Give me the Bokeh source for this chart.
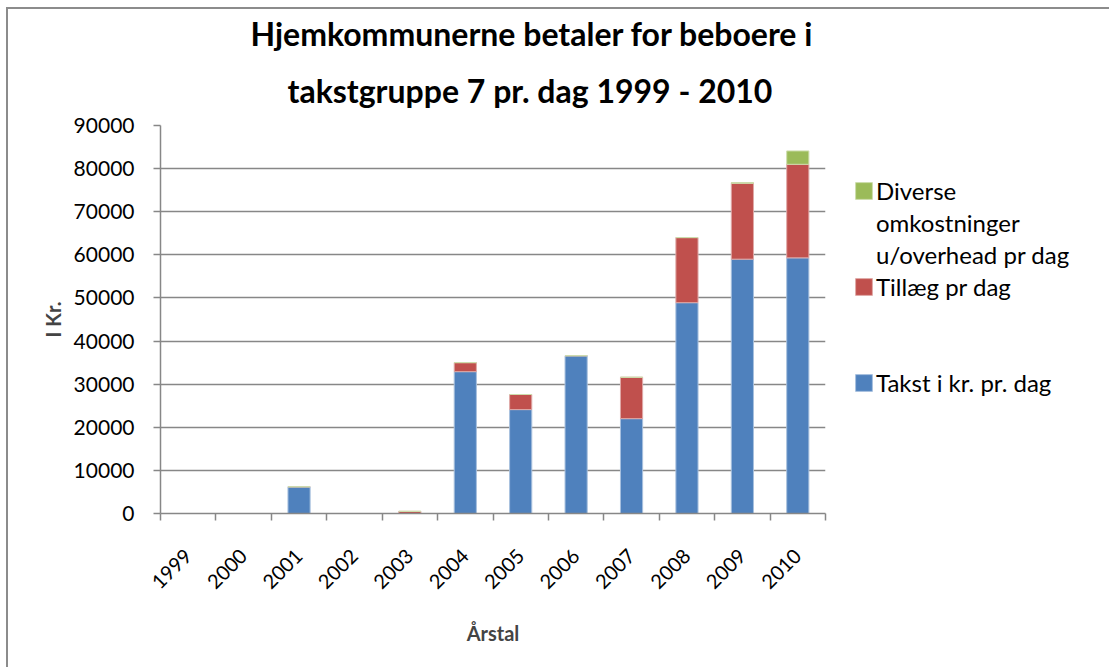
from bokeh.plotting import figure
from bokeh.models import (Range1d, Legend, LegendItem, LinearAxis, Title,
                          FixedTicker, NumeralTickFormatter)
from bokeh.embed import file_html
from bokeh.resources import INLINE
import math

years = ["1999", "2000", "2001", "2002", "2003", "2004", "2005", "2006", "2007", "2008", "2009", "2010"]
takst = [0, 0, 6200, 0, 0, 32900, 24100, 36600, 22000, 48900, 59000, 59300]
tillaeg = [0, 0, 0, 0, 500, 2100, 3500, 0, 9600, 15100, 17600, 21700]
diverse = [0, 0, 0, 0, 0, 0, 0, 0, 0, 0, 150, 3100]
y_ticks = [0, 10000, 20000, 30000, 40000, 50000, 60000, 70000, 80000, 90000]

series = ["takst", "tillaeg", "diverse"]
label_takst = "Takst i kr. pr. dag"
label_tillaeg = "Tillæg pr dag"
label_diverse = ["Diverse", "omkostninger", "u/overhead pr dag"]
colors = ["#4F81BD", "#C0504D", "#9BBB59"]
title_lines = ["Hjemkommunerne betaler for beboere i", "takstgruppe 7 pr. dag 1999 - 2010"]

FONT = "Lato"
GRAY = "#878787"

n = len(years)
xpos = [i + 0.5 for i in range(n)]          # category centres on a 0..n scale
edges = list(range(n + 1))                  # category boundaries (tick marks)

p = figure(x_range=Range1d(0, n), y_range=Range1d(0, 90000),
           width=1101, height=658, output_backend="svg", toolbar_location=None,
           min_border_left=152, min_border_right=284, min_border_top=116, min_border_bottom=154,
           frame_width=665, frame_height=388)
p.margin = (7, 0, 0, 6)
p.styles = {"border-left": "2px solid #8C8C8C", "border-top": "2px solid #8C8C8C"}
p.title.visible = False

source = dict(x=xpos, takst=takst, tillaeg=tillaeg, diverse=diverse)
renderers = p.vbar_stack(series, x="x", width=0.4, source=source, color=colors,
                         line_color=["#A7C0DE", "#DFA9A7", "#CDDDAC"], line_width=1)
# invisible renderer used only for the legend's extra lines / gaps
spacer = p.vbar(x=[], top=[], width=0.4, fill_alpha=0, line_alpha=0)

p.outline_line_color = None
p.background_fill_color = "white"
p.border_fill_color = "white"

p.xgrid.grid_line_color = None
p.ygrid.grid_line_color = GRAY
p.ygrid.grid_line_width = 1.5
p.ygrid.ticker = FixedTicker(ticks=y_ticks)

yax = p.yaxis[0]
yax.ticker = FixedTicker(ticks=y_ticks)
yax.formatter = NumeralTickFormatter(format="0")
yax.axis_line_color = GRAY
yax.axis_line_width = 1.5
yax.major_tick_line_color = GRAY
yax.major_tick_line_width = 1.5
yax.major_tick_out = 7
yax.major_tick_in = 0
yax.minor_tick_line_color = None
yax.major_label_text_font = FONT
yax.major_label_text_font_size = "21px"
yax.major_label_text_color = "black"
yax.major_label_standoff = 19
yax.axis_label = "I Kr."
yax.axis_label_text_font = FONT
yax.axis_label_text_font_style = "bold"
yax.axis_label_text_font_size = "20px"
yax.axis_label_standoff = 6

# main x axis: tick marks at category boundaries, no labels
edge_axis = p.xaxis[0]
edge_axis.ticker = FixedTicker(ticks=edges)
edge_axis.major_label_overrides = {e: "" for e in edges}
edge_axis.major_label_text_font_size = "0px"
edge_axis.major_label_standoff = 0
edge_axis.axis_line_color = GRAY
edge_axis.axis_line_width = 1.5
edge_axis.major_tick_line_color = GRAY
edge_axis.major_tick_line_width = 1.5
edge_axis.major_tick_out = 7
edge_axis.major_tick_in = 0
edge_axis.minor_tick_line_color = None

# label axis: year names at category centres
lab_axis = LinearAxis(ticker=FixedTicker(ticks=xpos),
                      major_label_overrides={xv: yr for xv, yr in zip(xpos, years)},
                      axis_line_color=None, major_tick_line_color=None, minor_tick_line_color=None,
                      major_label_orientation=math.pi / 4,
                      major_label_text_font=FONT, major_label_text_font_size="20px",
                      major_label_text_color="black", major_label_standoff=26,
                      axis_label="Årstal", axis_label_text_font=FONT,
                      axis_label_text_font_style="bold", axis_label_text_font_size="20px",
                      axis_label_standoff=23)
p.add_layout(lab_axis, "below")

# title: two lines stacked above the frame, centred on the chart area
t2 = Title(text=title_lines[1], align="left", offset=127, standoff=32,
           text_font=FONT, text_font_style="bold", text_font_size="32px", text_color="black")
t1 = Title(text=title_lines[0], align="left", offset=90, standoff=0,
           text_font=FONT, text_font_style="bold", text_font_size="32px", text_color="black")
p.above = [t2, t1]

# legend in the right panel
items = [LegendItem(label=label_diverse[0], renderers=[renderers[2]]),
         LegendItem(label=label_diverse[1], renderers=[spacer]),
         LegendItem(label=label_diverse[2], renderers=[spacer]),
         LegendItem(label=label_tillaeg, renderers=[renderers[1]]),
         LegendItem(label=" ", renderers=[spacer]),
         LegendItem(label=" ", renderers=[spacer]),
         LegendItem(label=label_takst, renderers=[renderers[0]])]
lg = Legend(items=items, location=(28, 115), border_line_color=None, background_fill_alpha=0,
            label_text_font=FONT, label_text_font_size="24px", label_text_color="black",
            glyph_width=21, glyph_height=21, label_standoff=2, padding=0, margin=0,
            label_height=32, spacing=0)
p.add_layout(lg, "right")

open("out.html", "w").write(file_html(p, INLINE))
